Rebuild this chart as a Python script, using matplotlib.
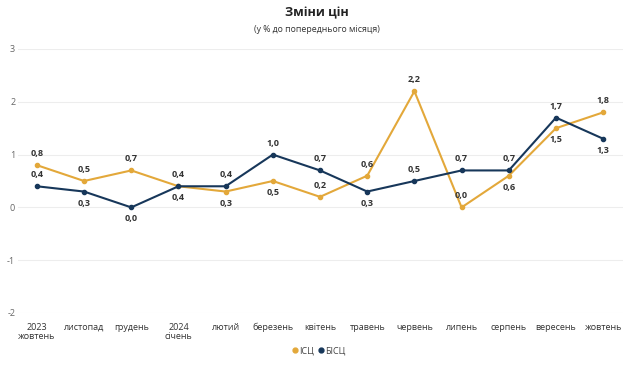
import matplotlib
matplotlib.use("Agg")
import matplotlib.pyplot as plt
from matplotlib.lines import Line2D

plt.rcParams['font.family'] = ['Open Sans', 'DejaVu Sans']

months = ["2023\nжовтень", "листопад", "грудень", "2024\nсічень", "лютий", "березень",
          "квітень", "травень", "червень", "липень", "серпень", "вересень", "жовтень"]
icsc = [0.8, 0.5, 0.7, 0.4, 0.3, 0.5, 0.2, 0.6, 2.2, 0.0, 0.6, 1.5, 1.8]
bicsc = [0.4, 0.3, 0.0, 0.4, 0.4, 1.0, 0.7, 0.3, 0.5, 0.7, 0.7, 1.7, 1.3]
# label placement: True = above
icsc_above = [True, True, True, False, False, False, True, True, True, True, False, False, True]
bicsc_above = [True, False, False, True, True, True, True, False, True, True, True, True, False]
yticks = [-2, -1, 0, 1, 2, 3]

c_icsc = "#E3A83A"
c_bicsc = "#17375A"

fig = plt.figure(figsize=(6.33, 3.65), dpi=100)
ax = fig.add_axes([18/633, 52/365, (623-18)/633, (316-52)/365])
x = list(range(len(months)))
ax.plot(x, icsc, color=c_icsc, lw=1.5, marker='o', ms=3, zorder=3)
ax.plot(x, bicsc, color=c_bicsc, lw=1.5, marker='o', ms=3, zorder=4)

def fmt(v):
    return f"{v:.1f}".replace('.', ',')

for xi, v, up in zip(x, icsc, icsc_above):
    ax.annotate(fmt(v), (xi, v), xytext=(0, 5 if up else -5), textcoords='offset points',
                ha='center', va='bottom' if up else 'top', fontsize=6.5, fontweight='bold', color='#333333')
for xi, v, up in zip(x, bicsc, bicsc_above):
    ax.annotate(fmt(v), (xi, v), xytext=(0, 5 if up else -5), textcoords='offset points',
                ha='center', va='bottom' if up else 'top', fontsize=6.5, fontweight='bold', color='#333333')

ax.set_xlim(-0.4, 12.42)
ax.set_ylim(-2, 3)
ax.set_yticks(yticks)
ax.set_yticklabels([str(t) for t in yticks], fontsize=6.5, color='#666666')
ax.set_xticks(x)
ax.set_xticklabels(months, fontsize=6.5, color='#333333', linespacing=1.1)
ax.tick_params(length=0, axis='x', pad=7)
ax.tick_params(length=0, axis='y', pad=2)
ax.grid(axis='y', color='#EDEDED', lw=0.8)
ax.set_axisbelow(True)
for s in ax.spines.values():
    s.set_visible(False)

fig.text(0.5, 1 - 13/365, "Зміни цін", ha='center', va='center', fontsize=9, fontweight='bold', color='#222222')
fig.text(0.5, 1 - 29/365, "(у % до попереднього місяця)", ha='center', va='center', fontsize=6.3, color='#333333')

handles = [Line2D([], [], ls='none', marker='o', ms=3.5, color=c_icsc, label='ІСЦ'),
           Line2D([], [], ls='none', marker='o', ms=3.5, color=c_bicsc, label='БІСЦ')]
leg = fig.legend(handles=handles, loc='center', bbox_to_anchor=(0.503, 1 - 351/365), ncol=2,
                 frameon=False, fontsize=6.5, handletextpad=0.05, columnspacing=0.4, handlelength=0.8)
for t in leg.get_texts():
    t.set_color('#444444')

fig.savefig("out.png", dpi=100, facecolor='white')
